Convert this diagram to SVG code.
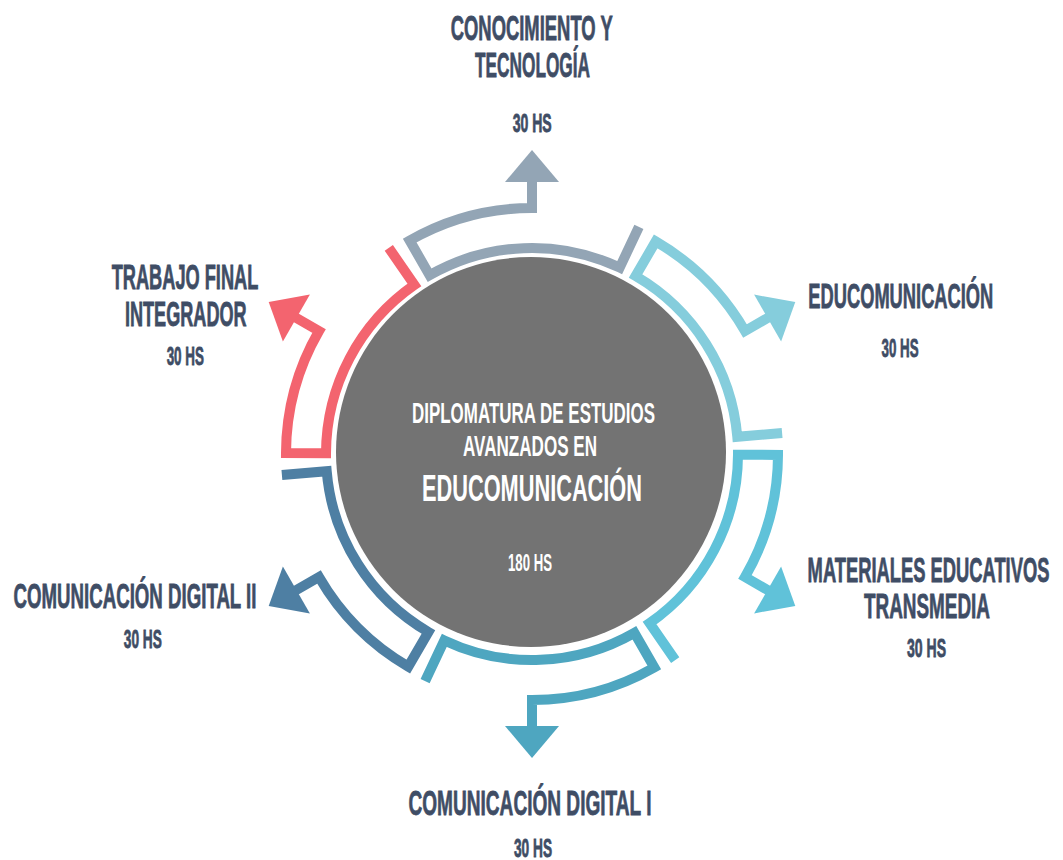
<svg xmlns="http://www.w3.org/2000/svg" width="1063" height="860" viewBox="0 0 1063 860">
<style>
.seg{fill:none;stroke-width:10;stroke-linejoin:miter;stroke-miterlimit:10}
.lbl{font-family:"Liberation Sans",Arial,sans-serif;font-weight:bold;fill:#3f4d65;stroke:#3f4d65;stroke-width:0.8;text-anchor:middle}
.big{font-size:35px}
.hs{font-size:25px}
.ctr{font-family:"Liberation Sans",Arial,sans-serif;font-weight:bold;fill:#ffffff;text-anchor:middle}
</style>
<rect width="1063" height="860" fill="#ffffff"/>
<g id="center">
<circle cx="531" cy="452" r="197" fill="#ffffff"/>
<circle cx="531" cy="452" r="195" fill="#737373"/>
<text class="ctr" transform="translate(533.5 423) scale(0.6 1)" x="0" y="0" font-size="30" textLength="405" lengthAdjust="spacingAndGlyphs">DIPLOMATURA DE ESTUDIOS</text>
<text class="ctr" transform="translate(530 456) scale(0.6 1)" x="0" y="0" font-size="30" textLength="223.3" lengthAdjust="spacingAndGlyphs">AVANZADOS EN</text>
<text class="ctr" transform="translate(532 501) scale(0.6 1)" x="0" y="0" font-size="37" textLength="366.7" lengthAdjust="spacingAndGlyphs">EDUCOMUNICACIÓN</text>
<text class="ctr" transform="translate(530 571) scale(0.6 1)" x="0" y="0" font-size="23" textLength="73.3" lengthAdjust="spacingAndGlyphs">180 HS</text>
</g>
<g id="connectors">
<g id="seg-conocimiento">
<path class="seg" stroke="#93a5b5" d="M638.9,226.9 L619.7,267.6 A206,206 0 0 0 429.6,275.2 L409.7,240.5 A246,246 0 0 1 532,208 L532,179"/>
<polygon fill="#93a5b5" points="559,182 505,182 532,150"/>
</g>
<g id="seg-educomunicacion">
<path class="seg" stroke="#85cddc" d="M782.1,433 L737.3,436.8 A206,206 0 0 0 635.6,276 L655.7,241.4 A246,246 0 0 1 745,331 L770.2,316.5"/>
<polygon fill="#85cddc" points="781.1,341.4 754.1,294.6 795.3,302"/>
</g>
<g id="seg-materiales">
<path class="seg" stroke="#60c2d9" d="M675.2,660.1 L649.6,623.1 A206,206 0 0 0 738,454.7 L778,454.9 A246,246 0 0 1 745,577 L770.2,591.5"/>
<polygon fill="#60c2d9" points="754.1,613.4 781.1,566.6 795.3,606"/>
</g>
<g id="seg-digital1">
<path class="seg" stroke="#4ea6c0" d="M425.1,681.1 L444.3,640.4 A206,206 0 0 0 634.4,632.8 L654.3,667.5 A246,246 0 0 1 532,700 L532,729"/>
<polygon fill="#4ea6c0" points="505,726 559,726 532,758"/>
</g>
<g id="seg-digital2">
<path class="seg" stroke="#4e7fa3" d="M281.9,475 L326.7,471.2 A206,206 0 0 0 428.4,632 L408.3,666.6 A246,246 0 0 1 319,577 L293.8,591.5"/>
<polygon fill="#4e7fa3" points="282.9,566.6 309.9,613.4 268.7,606"/>
</g>
<g id="seg-trabajo">
<path class="seg" stroke="#f3646f" d="M388.8,247.9 L414.4,284.9 A206,206 0 0 0 326,453.3 L286,453.1 A246,246 0 0 1 319,331 L293.8,316.5"/>
<polygon fill="#f3646f" points="309.9,294.6 282.9,341.4 268.7,302"/>
</g>
</g>
<g id="node-conocimiento">
<text class="lbl big" transform="translate(531.7 40) scale(0.6 1)" x="0" y="0" textLength="270" lengthAdjust="spacingAndGlyphs">CONOCIMIENTO Y</text>
<text class="lbl big" transform="translate(532.5 76.5) scale(0.6 1)" x="0" y="0" textLength="191.7" lengthAdjust="spacingAndGlyphs">TECNOLOGÍA</text>
<text class="lbl hs" transform="translate(532.2 131.5) scale(0.6 1)" x="0" y="0" textLength="65" lengthAdjust="spacingAndGlyphs">30 HS</text>
</g>
<g id="node-educomunicacion">
<text class="lbl big" transform="translate(900.8 308.3) scale(0.6 1)" x="0" y="0" textLength="308.3" lengthAdjust="spacingAndGlyphs">EDUCOMUNICACIÓN</text>
<text class="lbl hs" transform="translate(900 357) scale(0.6 1)" x="0" y="0" textLength="61.7" lengthAdjust="spacingAndGlyphs">30 HS</text>
</g>
<g id="node-materiales">
<text class="lbl big" transform="translate(928.5 581.7) scale(0.52 1)" x="0" y="0" textLength="465" lengthAdjust="spacingAndGlyphs">MATERIALES EDUCATIVOS</text>
<text class="lbl big" transform="translate(927 617.7) scale(0.6 1)" x="0" y="0" textLength="210" lengthAdjust="spacingAndGlyphs">TRANSMEDIA</text>
<text class="lbl hs" transform="translate(926.5 656.5) scale(0.6 1)" x="0" y="0" textLength="65" lengthAdjust="spacingAndGlyphs">30 HS</text>
</g>
<g id="node-digital1">
<text class="lbl big" transform="translate(530 815) scale(0.6 1)" x="0" y="0" textLength="405" lengthAdjust="spacingAndGlyphs">COMUNICACIÓN DIGITAL I</text>
<text class="lbl hs" transform="translate(533 857) scale(0.6 1)" x="0" y="0" textLength="63.3" lengthAdjust="spacingAndGlyphs">30 HS</text>
</g>
<g id="node-digital2">
<text class="lbl big" transform="translate(135 608.3) scale(0.6 1)" x="0" y="0" textLength="405" lengthAdjust="spacingAndGlyphs">COMUNICACIÓN DIGITAL II</text>
<text class="lbl hs" transform="translate(142.8 648) scale(0.6 1)" x="0" y="0" textLength="63.3" lengthAdjust="spacingAndGlyphs">30 HS</text>
</g>
<g id="node-trabajo">
<text class="lbl big" transform="translate(185 289.3) scale(0.6 1)" x="0" y="0" textLength="244.3" lengthAdjust="spacingAndGlyphs">TRABAJO FINAL</text>
<text class="lbl big" transform="translate(185.8 326) scale(0.6 1)" x="0" y="0" textLength="202.8" lengthAdjust="spacingAndGlyphs">INTEGRADOR</text>
<text class="lbl hs" transform="translate(185.3 365) scale(0.6 1)" x="0" y="0" textLength="62.2" lengthAdjust="spacingAndGlyphs">30 HS</text>
</g>
</svg>
